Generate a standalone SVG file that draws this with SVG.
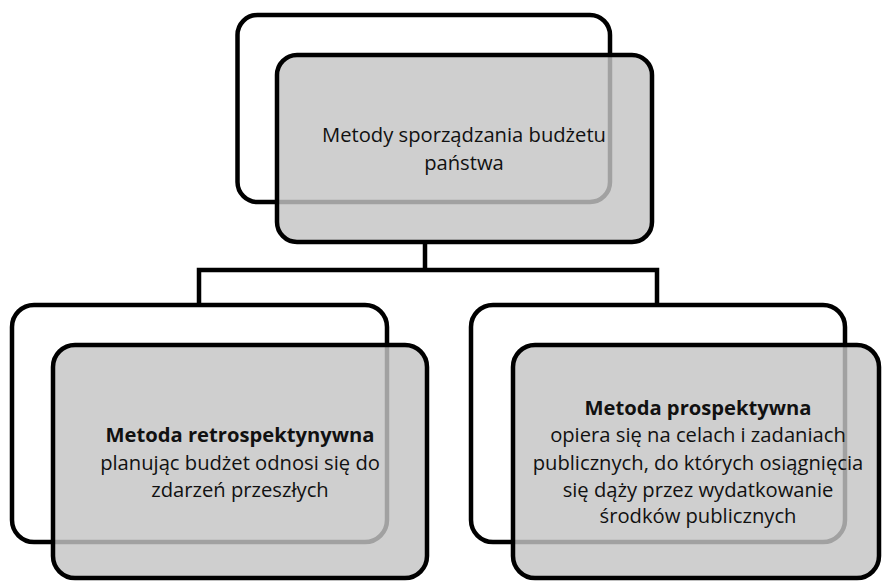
<svg xmlns="http://www.w3.org/2000/svg" width="883" height="581" viewBox="0 0 883 581">
<style>
.back{fill:#ffffff;stroke:#000;stroke-width:4.5}
.front{fill:rgb(196,196,196);fill-opacity:0.82;stroke:#000;stroke-width:4.5}
.conn{fill:none;stroke:#000;stroke-width:4.5}
text{font-family:"Open Sans","Liberation Sans",sans-serif;font-size:20.2px;fill:#111;text-anchor:middle}
.b{font-weight:bold}
</style>
<rect width="883" height="581" fill="#fff"/>
<g id="connectors">
<path class="conn" d="M425,241 V270 M199,303 V270 H657 V303"/>
</g>
<g id="top">
<rect class="back" x="237.5" y="15" width="372.5" height="187" rx="20"/>
<rect class="front" x="277" y="55" width="375" height="187" rx="20"/>
<text x="464" y="142">Metody sporządzania budżetu</text>
<text x="464" y="170">państwa</text>
</g>
<g id="left">
<rect class="back" x="12" y="305" width="375" height="237" rx="22"/>
<rect class="front" x="53" y="345" width="374" height="233" rx="22"/>
<text x="240" y="442" class="b">Metoda retrospektynywna</text>
<text x="240" y="470">planując budżet odnosi się do</text>
<text x="240" y="497">zdarzeń przeszłych</text>
</g>
<g id="right">
<rect class="back" x="471" y="305" width="374" height="237" rx="22"/>
<rect class="front" x="513" y="345" width="366" height="233" rx="22"/>
<text x="698" y="415" class="b">Metoda prospektywna</text>
<text x="698" y="442">opiera się na celach i zadaniach</text>
<text x="698" y="470">publicznych, do których osiągnięcia</text>
<text x="698" y="497">się dąży przez wydatkowanie</text>
<text x="698" y="523">środków publicznych</text>
</g>
</svg>
